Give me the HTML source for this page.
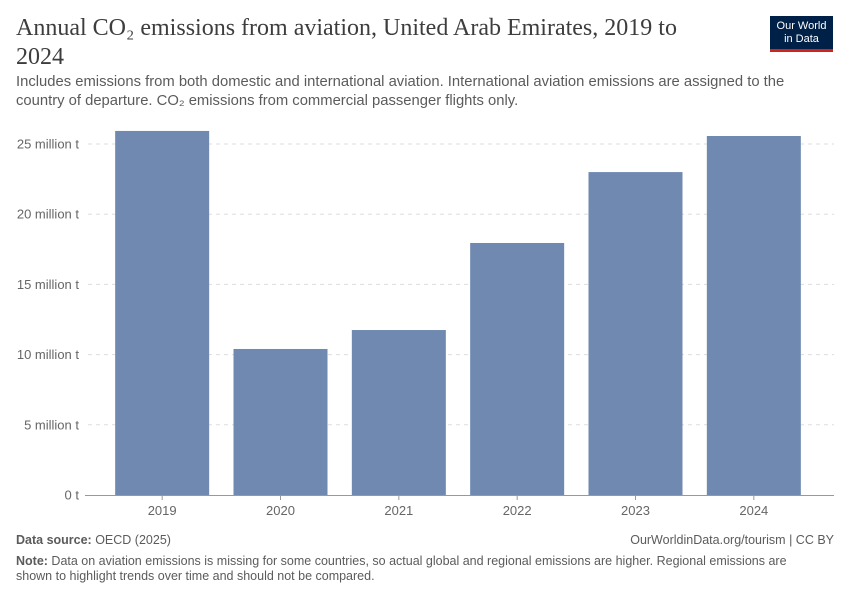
<!DOCTYPE html>
<html><head><meta charset="utf-8"><style>
body{margin:0;background:#fff;width:850px;height:600px;overflow:hidden;font-family:"Liberation Sans",sans-serif;}
.title{position:absolute;left:16px;top:14px;width:700px;font-family:"Liberation Serif",serif;font-size:24px;line-height:29px;color:#3d3d3d;}
.sub{position:absolute;left:16px;top:73px;width:820px;font-size:14.8px;line-height:19px;color:#5b5b5b;}
.logo{position:absolute;left:770px;top:16px;width:63px;height:36px;background:#002147;border-bottom:3px solid #ce261e;box-sizing:border-box;color:#fff;font-size:11px;line-height:13px;text-align:center;padding-top:4px;}
.foot{position:absolute;font-size:12.5px;color:#5b5b5b;}
</style></head><body>
<div class="title">Annual CO₂ emissions from aviation, United Arab Emirates, 2019 to 2024</div>
<div class="sub">Includes emissions from both domestic and international aviation. International aviation emissions are assigned to the country of departure. CO₂ emissions from commercial passenger flights only.</div>
<div class="logo">Our World<br>in Data</div>
<svg id="chart" width="850" height="600" style="position:absolute;left:0;top:0"></svg>
<div class="foot" style="left:16px;top:533px"><b>Data source:</b> OECD (2025)</div>
<div class="foot" style="right:16px;top:533px">OurWorldinData.org/tourism | CC BY</div>
<div class="foot" style="left:16px;top:554px;width:800px;line-height:15px"><b>Note:</b> Data on aviation emissions is missing for some countries, so actual global and regional emissions are higher. Regional emissions are shown to highlight trends over time and should not be compared.</div>
<script>
const categories=["2019","2020","2021","2022","2023","2024"];
const values=[25.93,10.4,11.75,17.95,23.0,25.57];
const tickValues=[0,5,10,15,20,25];
const tickLabels=["0 t","5 million t","10 million t","15 million t","20 million t","25 million t"];
const svg=document.getElementById('chart');
const NS='http://www.w3.org/2000/svg';
const y0=495,pxPer=351/25,xl=103,xr=813;
const y=v=>y0-v*pxPer;
const step=(xr-xl)/categories.length,bw=94;
const x=i=>xl+i*step+(step-bw)/2;
function mk(t,a){const e=document.createElementNS(NS,t);for(const k in a)e.setAttribute(k,a[k]);svg.appendChild(e);return e;}
tickValues.forEach((v,i)=>{
 if(v>0){const g=mk('line',{x1:88,x2:834,y1:y(v),y2:y(v),stroke:'#ddd','stroke-dasharray':'4,4'});
 
 }
 const t=mk('text',{x:79,y:y(v)+4.5,'text-anchor':'end','font-size':'13',fill:'#666','font-family':'Liberation Sans'});
 t.textContent=tickLabels[i];
 
 
});
const ax=mk('line',{x1:85,x2:834,y1:y0+0.5,y2:y0+0.5,stroke:'#999'});


categories.forEach((c,i)=>{
 const r=mk('rect',{x:x(i),y:y(values[i]),width:bw,height:y0-y(values[i]),fill:'#6f89b0'});
 
 
 mk('line',{x1:x(i)+bw/2,x2:x(i)+bw/2,y1:y0,y2:y0+5,stroke:'#999'});
 const t=mk('text',{x:x(i)+bw/2,y:515,'text-anchor':'middle','font-size':'13',fill:'#666','font-family':'Liberation Sans'});
 t.textContent=c;
 
 
});
</script>
</body></html>
